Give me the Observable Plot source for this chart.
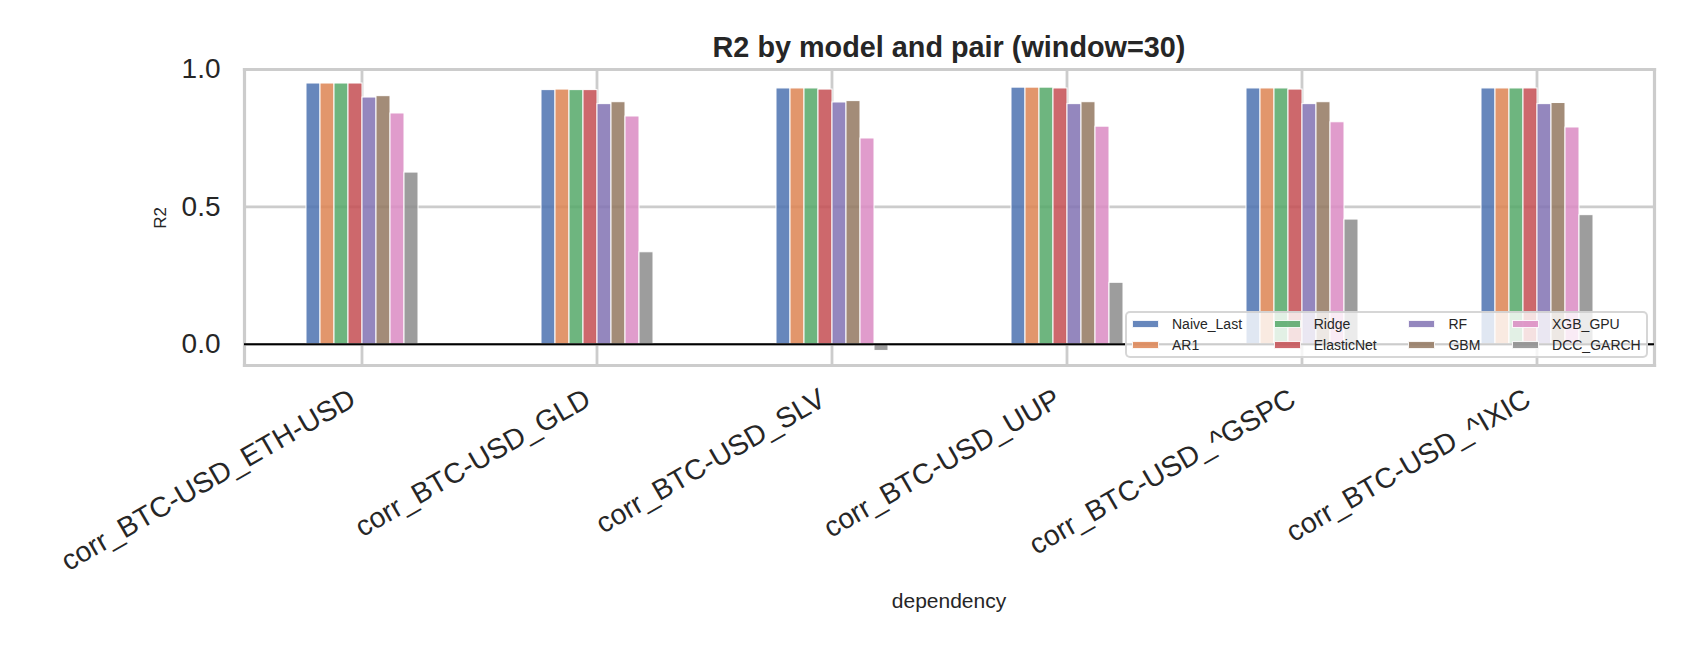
<!DOCTYPE html>
<html>
<head>
<meta charset="utf-8">
<script src="https://cdn.jsdelivr.net/npm/d3@7"></script>
<script src="https://cdn.jsdelivr.net/npm/@observablehq/plot@0.6"></script>
<style>
  html, body { margin: 0; padding: 0; background: #fff; }
  #wrap { position: relative; width: 1690px; font-family: "Liberation Sans", Arial, sans-serif; color: #262626; }
  #title { position: relative; height: 29px; padding-top: 33px; line-height: 29px; font-size: 28.8px; font-weight: bold; }
  #title span { position: absolute; left: 243px; width: 1412px; text-align: center; }
  #chart svg { display: block; }
  .ylab { position: absolute; left: 161px; top: 217.5px; font-size: 17px; transform: translate(-50%, -50%) rotate(-90deg); white-space: nowrap; }
  .xlab { position: absolute; left: 949px; top: 590px; font-size: 21px; transform: translateX(-50%); white-space: nowrap; line-height: 21px; }
  #legend { position: absolute; left: 1125px; top: 311px; width: 523px; height: 47px; box-sizing: border-box;
    background: rgba(255,255,255,0.8); border: 2.4px solid rgba(204,204,204,0.8); border-radius: 5px;
    display: grid; grid-template-columns: auto auto auto auto; grid-auto-flow: column; grid-template-rows: 21px 21px;
    column-gap: 31.7px; padding-left: 5px; justify-content: start; align-content: center; font-size: 14px; }
  #legend .item { display: flex; align-items: center; white-space: nowrap; }
  #legend .sw { width: 27px; height: 8px; margin-right: 13px; box-sizing: border-box; border: 1px solid rgba(255,255,255,0.9); }
</style>
</head>
<body>
<div id="wrap">
  <div id="title"><span>R2 by model and pair (window=30)</span></div>
  <div id="chart"></div>
  <div class="ylab">R2</div>
  <div class="xlab">dependency</div>
  <div id="legend"></div>
</div>
<script>
// ---- data ----
const pairs = ["corr_BTC-USD_ETH-USD", "corr_BTC-USD_GLD", "corr_BTC-USD_SLV", "corr_BTC-USD_UUP", "corr_BTC-USD_^GSPC", "corr_BTC-USD_^IXIC"];
const models = ["Naive_Last", "AR1", "Ridge", "ElasticNet", "RF", "GBM", "XGB_GPU", "DCC_GARCH"];
const naiveLast = [0.949, 0.925, 0.931, 0.934, 0.931, 0.931];
const ar1       = [0.949, 0.927, 0.931, 0.934, 0.931, 0.931];
const ridge     = [0.949, 0.925, 0.931, 0.934, 0.931, 0.931];
const elasticNet= [0.949, 0.925, 0.927, 0.931, 0.927, 0.931];
const rf        = [0.898, 0.874, 0.880, 0.874, 0.874, 0.874];
const gbm       = [0.903, 0.881, 0.885, 0.881, 0.881, 0.878];
const xgbGpu    = [0.840, 0.829, 0.749, 0.792, 0.808, 0.789];
const dccGarch  = [0.625, 0.335, -0.024, 0.224, 0.454, 0.470];
const colors = ["#4C72B0", "#DD8452", "#55A868", "#C44E52", "#8172B3", "#937860", "#DA8BC3", "#8C8C8C"];
const yTicks = [0.0, 0.5, 1.0];

const seriesValues = [naiveLast, ar1, ridge, elasticNet, rf, gbm, xgbGpu, dccGarch];
const data = [];
pairs.forEach((p, i) => models.forEach((m, j) => data.push({pair: p, model: m, r2: seriesValues[j][i]})));

const spine = {stroke: "#cccccc", strokeOpacity: 1, strokeWidth: 3.2};

const chart = Plot.plot({
  width: 1690,
  height: 588,
  marginLeft: 243,
  marginRight: 35,
  marginTop: 7,
  marginBottom: 285,
  style: {fontFamily: "'Liberation Sans', Arial, sans-serif", color: "#262626", background: "white", overflow: "visible"},
  fx: {domain: pairs, padding: 0, label: null},
  x: {domain: models, paddingInner: 0, paddingOuter: 4.1, axis: null},
  y: {domain: [-0.077, 1.0], axis: null},
  color: {domain: models, range: colors},
  marks: [
    Plot.ruleY(yTicks, {stroke: "#cccccc", strokeWidth: 2.8}),
    Plot.gridFx({stroke: "#cccccc", strokeOpacity: 1, strokeWidth: 2.8}),
    Plot.frame({anchor: "bottom", ...spine}),
    Plot.frame({anchor: "top", ...spine}),
    Plot.frame({anchor: "left", facetAnchor: "left", ...spine}),
    Plot.frame({anchor: "right", facetAnchor: "right", ...spine}),
    Plot.barY(data, {fx: "pair", x: "model", y: "r2", fill: "model", fillOpacity: 0.85, stroke: "white", strokeWidth: 1}),
    Plot.ruleY([0], {stroke: "black", strokeWidth: 2}),
    Plot.axisY({ticks: yTicks, tickFormat: ".1f", tickSize: 0, tickPadding: 24, fontSize: 28, label: null}),
    Plot.axisFx({anchor: "bottom", tickRotate: -30, tickSize: 0, tickPadding: 31, fontSize: 28.5, label: null, dx: -9})
  ]
});
document.getElementById("chart").appendChild(chart);

// legend (matplotlib-style, inside axes, lower right)
const legend = d3.select("#legend");
models.forEach((m, j) => {
  const it = legend.append("div").attr("class", "item");
  it.append("div").attr("class", "sw").style("background", d3.color(colors[j]).copy({opacity: 0.85}).formatRgb());
  it.append("span").text(m);
});
</script>
</body>
</html>
